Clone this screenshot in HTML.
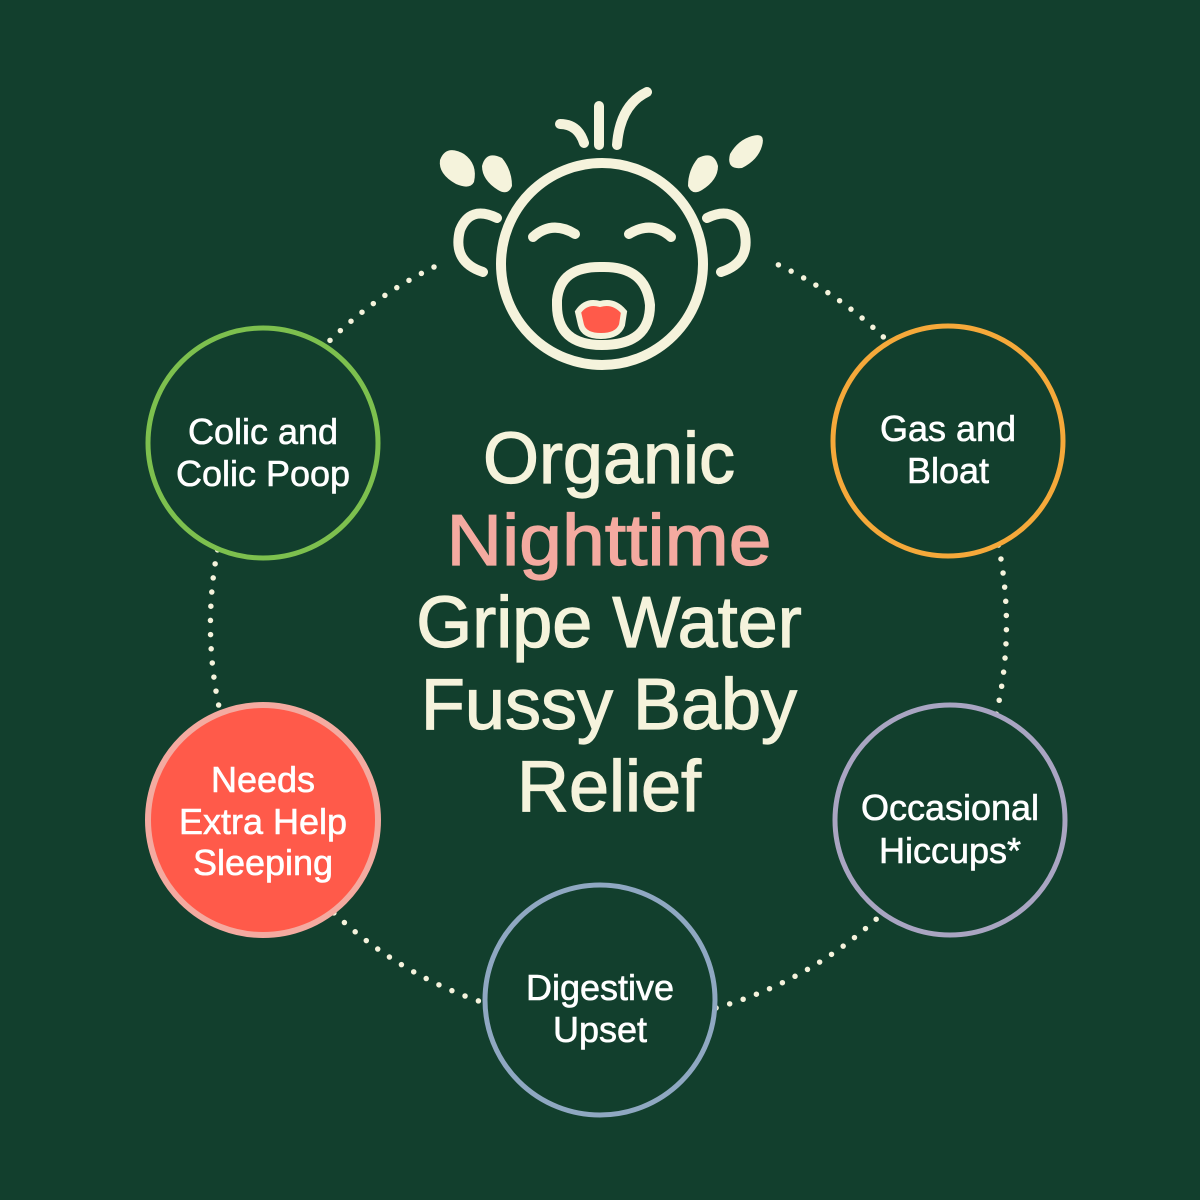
<!DOCTYPE html>
<html><head><meta charset="utf-8"><style>
html,body{margin:0;padding:0;background:#123f2d;}
svg{display:block;}
text{font-family:"Liberation Sans",Arial,sans-serif;text-anchor:middle;}
</style></head><body>
<svg width="1200" height="1200" viewBox="0 0 1200 1200" xmlns="http://www.w3.org/2000/svg">
<rect width="1200" height="1200" fill="#123f2d"/>
<path d="M434 267 A398 398 0 1 0 770 261" fill="none" stroke="#f5f3dc" stroke-width="5.5" stroke-linecap="round" stroke-dasharray="0 14.2"/>

<g fill="none" stroke="#f5f3dc" stroke-width="10" stroke-linecap="round">
<circle cx="602" cy="264" r="101"/>
<path d="M533 237 Q552 220 575 234"/>
<path d="M629 234 Q652 220 671 237"/>
<path d="M497 218 Q470 205 460 230 Q452 262 483 272"/>
<path d="M707 218 Q734 205 744 230 Q752 262 721 272"/>
<path d="M560 124 Q578 124 584 143"/>
<path d="M599 106 L599 145"/>
<path d="M617 145 Q620 105 647 92"/>
<path d="M557 300 Q560 266 602 267 Q646 266 650 305 Q650 345 602 345 Q557 345 557 305 Z"/>
</g>
<path d="M578 312 Q586 300 600 304 Q614 300 624 312 L622 325 Q618 336 601 336 Q584 336 581 325 Z" fill="#ff5a4a" stroke="#f5f3dc" stroke-width="6"/>
<g fill="#f5f3dc">
<path d="M440 160 Q446 144 464 154 Q478 164 474 182 Q470 190 456 184 Q438 174 440 160Z"/>
<path d="M482 166 Q486 150 502 158 Q512 170 512 186 Q508 196 498 190 Q482 180 482 166Z"/>
<path d="M718 166 Q714 150 698 158 Q688 170 688 186 Q692 196 702 190 Q718 180 718 166Z"/>
<path d="M762 146 Q766 132 752 136 Q738 140 730 154 Q726 170 742 168 Q758 160 762 146Z"/>
</g>

<circle cx="263" cy="443" r="115" fill="#123f2d" stroke="#7dc04e" stroke-width="5"/>
<circle cx="948" cy="441" r="115" fill="#123f2d" stroke="#f5a93a" stroke-width="5"/>
<circle cx="950" cy="820" r="115" fill="#123f2d" stroke="#a9a5c2" stroke-width="5"/>
<circle cx="600" cy="1000" r="115" fill="#123f2d" stroke="#8fa8c2" stroke-width="5"/>
<circle cx="263" cy="820" r="115" fill="#ff5a4a" stroke="#f4aaa0" stroke-width="6"/>

<g fill="#ffffff" font-size="36" stroke="#ffffff" stroke-width="0.6">
<text x="263" y="444">Colic and</text><text x="263" y="486">Colic Poop</text>
<text x="948" y="441">Gas and</text><text x="948" y="483">Bloat</text>
<text x="950" y="820">Occasional</text><text x="950" y="863">Hiccups*</text>
<text x="600" y="1000">Digestive</text><text x="600" y="1042">Upset</text>
<text x="263" y="792">Needs</text><text x="263" y="834">Extra Help</text><text x="263" y="875">Sleeping</text>
</g>

<g font-size="72" fill="#f5f3dc" stroke="#f5f3dc" stroke-width="1.2">
<text x="609" y="483">Organic</text>
<text x="609" y="565" fill="#f4aaa0" stroke="#f4aaa0" textLength="325" lengthAdjust="spacingAndGlyphs">Nighttime</text>
<text x="609" y="647">Gripe Water</text>
<text x="609" y="729">Fussy Baby</text>
<text x="609" y="811">Relief</text>
</g>
</svg>
</body></html>
